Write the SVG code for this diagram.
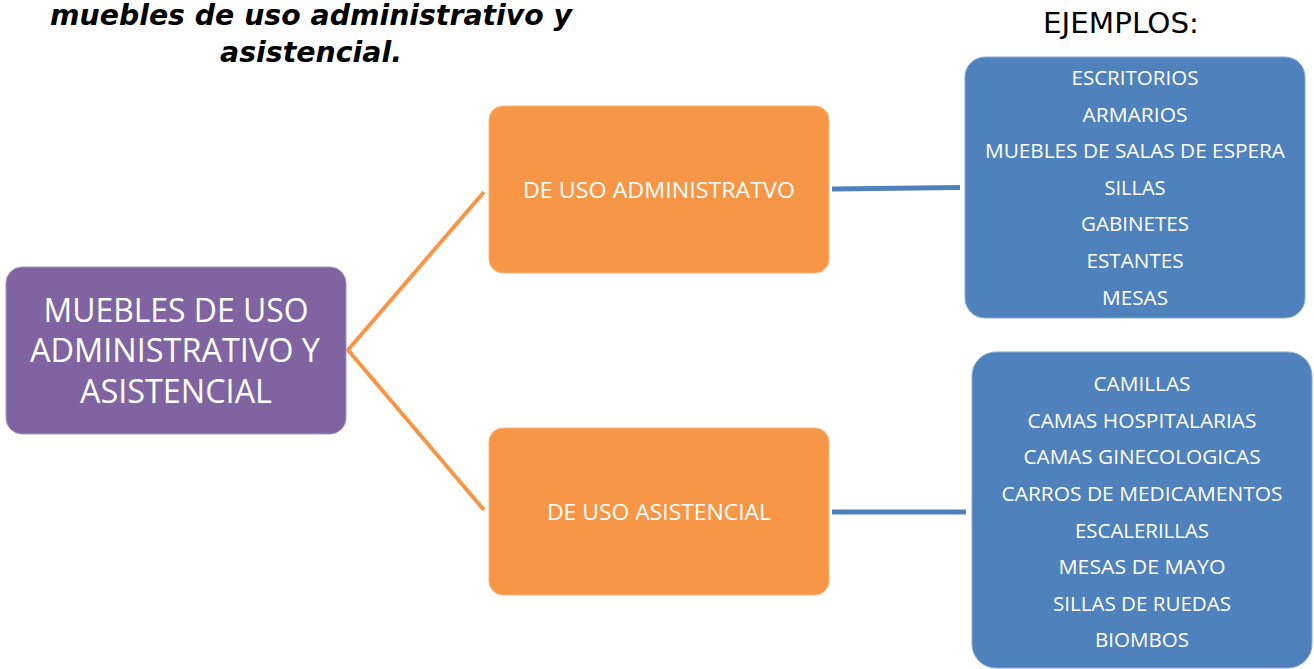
<svg xmlns="http://www.w3.org/2000/svg" width="1314" height="669" viewBox="0 0 1314 669">
<style>
.t{font-family:"Open Sans","Noto Sans","Liberation Sans",sans-serif;fill:#fff;text-anchor:middle}
.ex{font-size:20px}
.title{font-family:"DejaVu Sans","Liberation Sans",sans-serif;font-weight:bold;font-style:italic;font-size:28px;fill:#000;text-anchor:middle}
.hdr{font-family:"DejaVu Sans","Liberation Sans",sans-serif;font-size:28px;fill:#000;text-anchor:middle}
</style>
<rect width="1314" height="669" fill="#fff"/>
<g id="title">
<text class="title" x="311" y="25" textLength="522" lengthAdjust="spacingAndGlyphs">muebles de uso administrativo y</text>
<text class="title" x="311" y="62" textLength="182" lengthAdjust="spacingAndGlyphs">asistencial.</text>
</g>
<g id="ejemplos-label">
<text class="hdr" x="1121" y="33" textLength="156" lengthAdjust="spacingAndGlyphs">EJEMPLOS:</text>
</g>
<g id="connectors" fill="none" stroke-linecap="butt">
<polyline points="484,192 348,350 484,510" stroke="#F79646" stroke-width="4"/>
<line x1="832" y1="189" x2="960" y2="187.5" stroke="#4F81BD" stroke-width="5"/>
<line x1="832" y1="512" x2="966" y2="512" stroke="#4F81BD" stroke-width="5"/>
</g>
<g id="root">
<rect x="6" y="267" width="340" height="167" rx="16" fill="#8064A2" stroke="#a393bf" stroke-width="1"/>
<text class="t" x="176" y="322" font-size="32" textLength="265" lengthAdjust="spacingAndGlyphs">MUEBLES DE USO</text>
<text class="t" x="175" y="362" font-size="32" textLength="290" lengthAdjust="spacingAndGlyphs">ADMINISTRATIVO Y</text>
<text class="t" x="176" y="403" font-size="32" textLength="192" lengthAdjust="spacingAndGlyphs">ASISTENCIAL</text>
</g>
<g id="admin">
<rect x="489" y="106" width="340" height="167" rx="14" fill="#F79646" stroke="#f9b47f" stroke-width="1"/>
<text class="t" x="659" y="198" font-size="22" textLength="272" lengthAdjust="spacingAndGlyphs">DE USO ADMINISTRATVO</text>
</g>
<g id="asist">
<rect x="489" y="428" width="340" height="167" rx="14" fill="#F79646" stroke="#f9b47f" stroke-width="1"/>
<text class="t" x="659" y="520" font-size="22" textLength="224" lengthAdjust="spacingAndGlyphs">DE USO ASISTENCIAL</text>
</g>
<g id="admin-examples">
<rect x="965" y="57" width="340" height="261" rx="20" fill="#4F81BD" stroke="#8aa9d4" stroke-width="1"/>
<text class="t ex" x="1135" y="85" textLength="127" lengthAdjust="spacingAndGlyphs">ESCRITORIOS</text>
<text class="t ex" x="1135" y="122" textLength="105" lengthAdjust="spacingAndGlyphs">ARMARIOS</text>
<text class="t ex" x="1135" y="158" textLength="300" lengthAdjust="spacingAndGlyphs">MUEBLES DE SALAS DE ESPERA</text>
<text class="t ex" x="1135" y="195" textLength="61" lengthAdjust="spacingAndGlyphs">SILLAS</text>
<text class="t ex" x="1135" y="231" textLength="108" lengthAdjust="spacingAndGlyphs">GABINETES</text>
<text class="t ex" x="1135" y="268" textLength="97" lengthAdjust="spacingAndGlyphs">ESTANTES</text>
<text class="t ex" x="1135" y="305" textLength="66" lengthAdjust="spacingAndGlyphs">MESAS</text>
</g>
<g id="asist-examples">
<rect x="972" y="352" width="340" height="316" rx="24" fill="#4F81BD" stroke="#8aa9d4" stroke-width="1"/>
<text class="t ex" x="1142" y="391" textLength="97" lengthAdjust="spacingAndGlyphs">CAMILLAS</text>
<text class="t ex" x="1142" y="428" textLength="229" lengthAdjust="spacingAndGlyphs">CAMAS HOSPITALARIAS</text>
<text class="t ex" x="1142" y="464" textLength="237" lengthAdjust="spacingAndGlyphs">CAMAS GINECOLOGICAS</text>
<text class="t ex" x="1142" y="501" textLength="281" lengthAdjust="spacingAndGlyphs">CARROS DE MEDICAMENTOS</text>
<text class="t ex" x="1142" y="538" textLength="134" lengthAdjust="spacingAndGlyphs">ESCALERILLAS</text>
<text class="t ex" x="1142" y="574" textLength="167" lengthAdjust="spacingAndGlyphs">MESAS DE MAYO</text>
<text class="t ex" x="1142" y="611" textLength="178" lengthAdjust="spacingAndGlyphs">SILLAS DE RUEDAS</text>
<text class="t ex" x="1142" y="647" textLength="94" lengthAdjust="spacingAndGlyphs">BIOMBOS</text>
</g>
</svg>
